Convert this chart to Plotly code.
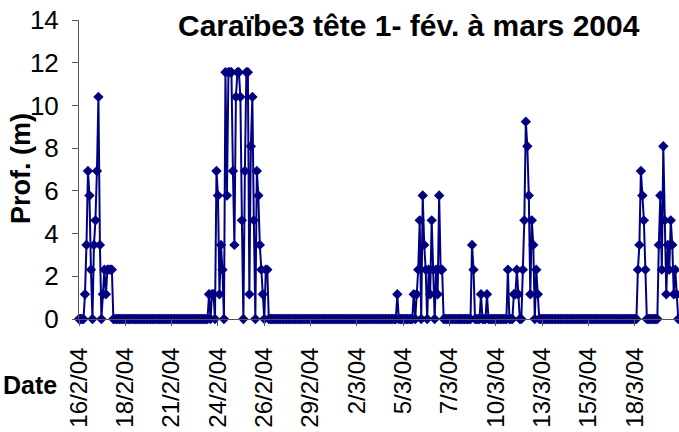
import numpy as np
import pandas as pd
import plotly.graph_objects as go

# ---------------- data ----------------
# logger samples every 2 hours starting 16/2/2004 07:00
sample_start = "2004-02-16 07:00"
n_samples = 403
sample_step_hours = 2

# depth bursts (m): first sample index -> consecutive readings; all other samples read 0
burst_1 = (3, [0, 1.16, 3.47, 6.93, 5.78, 2.31, 0, 3.47, 4.62, 6.93, 10.40, 3.47, 0,
               1.16, 2.31, 1.16, 2.31, 2.31, 2.31, 2.31, 0])
burst_2 = (86, [0, 1.16, 0, 1.16, 1.16, 0, 6.93, 5.78, 1.16, 3.47, 2.31, 0, 11.55, 5.78,
                11.55, 11.55, 11.55, 6.93, 3.47, 10.40, 11.55, 11.55, 10.40, 4.62, 0, 6.93,
                11.55, 11.55, 1.16, 8.09, 10.40, 4.62, 0, 6.93, 5.78, 3.47, 2.31, 1.16, 0,
                2.31, 2.31, 0])
burst_3a = (212, [0, 1.16, 0])
burst_3b = (223, [0, 1.16, 0, 1.16, 2.31, 4.62, 0, 5.78, 3.47, 2.31, 0, 2.31, 1.16, 4.62,
                  2.31, 0, 2.31, 1.16, 5.78, 2.31, 2.31, 0])
burst_4a = (262, [0, 3.47, 2.31, 0])
burst_4b = (268, [0, 1.16, 0, 0, 0, 1.16, 0])
burst_4c = (286, [0, 2.31, 0])
burst_4d = (290, [0, 1.16, 1.16, 2.31, 1.16, 0, 0, 2.31, 4.62, 9.24, 8.09, 5.78, 1.16,
                  4.62, 3.47, 0, 2.31, 1.16, 0])
burst_5a = (373, [0, 2.31, 3.47, 6.93, 5.78, 4.62, 2.31, 0])
burst_5b = (387, [0, 3.47, 5.78, 2.31, 8.09, 4.62, 1.16, 3.47, 2.31, 4.62, 3.47, 1.16,
                  2.31, 1.16, 0, 0])
bursts = [burst_1, burst_2, burst_3a, burst_3b, burst_4a, burst_4b, burst_4c,
          burst_4d, burst_5a, burst_5b]

tick_labels = ["16/2/04", "18/2/04", "21/2/04", "24/2/04", "26/2/04", "29/2/04",
               "2/3/04", "5/3/04", "7/3/04", "10/3/04", "13/3/04", "15/3/04", "18/3/04"]
tick_step_hours = 62

title_text = "Caraïbe3 tête 1- fév. à mars 2004"
y_title = "Prof. (m)"
x_title = "Date"

# ---------------- build ----------------
times = pd.date_range(sample_start, periods=n_samples, freq=f"{sample_step_hours}h")
depth = np.zeros(n_samples)
for first, vals in bursts:
    depth[first:first + len(vals)] = vals

t0 = pd.Timestamp(sample_start)
tickvals = [t0 + pd.Timedelta(hours=tick_step_hours * k) for k in range(len(tick_labels))]
x_end = t0 + pd.Timedelta(hours=sample_step_hours * 401.5)

navy = "#000080"
axis_col = "#555555"
font_fam = "Liberation Sans, Arial, sans-serif"

fig = go.Figure()
fig.add_trace(go.Scatter(
    x=times, y=depth, mode="lines+markers",
    line=dict(color=navy, width=2, simplify=False),
    marker=dict(symbol="diamond", size=8, color=navy),
    cliponaxis=False, showlegend=False,
))

fig.update_layout(
    width=679, height=432,
    margin=dict(l=79, r=0, t=20, b=113, autoexpand=False),
    paper_bgcolor="white", plot_bgcolor="white",
    font=dict(family=font_fam, color="black"),
    xaxis=dict(
        type="date", range=[t0, x_end], automargin=False,
        tickmode="array", tickvals=tickvals, ticktext=tick_labels,
        tickangle=-90, ticks="outside", ticklen=6, tickcolor=axis_col,
        showline=True, linecolor=axis_col, linewidth=1,
        showgrid=False, zeroline=False, ticklabeloverflow="allow",
        tickfont=dict(size=24, family=font_fam, color="black"),
        ticklabelstandoff=12,
    ),
    yaxis=dict(
        range=[0, 14], tickmode="linear", tick0=0, dtick=2, automargin=False,
        ticks="outside", ticklen=6, tickcolor=axis_col,
        showline=True, linecolor=axis_col, linewidth=1,
        showgrid=False, zeroline=False, ticklabeloverflow="allow",
        tickfont=dict(size=26, family=font_fam, color="black"),
        ticklabelstandoff=8,
    ),
    annotations=[
        dict(text=f"<b>{title_text}</b>", xref="paper", yref="paper",
             x=0.55, y=0.98, xanchor="center", yanchor="middle", showarrow=False,
             font=dict(size=30, family=font_fam, color="black")),
        dict(text=f"<b>{y_title}</b>", xref="paper", yref="paper",
             x=-0.0967, y=0.505, xanchor="center", yanchor="middle", textangle=-90,
             showarrow=False, font=dict(size=27, family=font_fam, color="black")),
        dict(text=f"<b>{x_title}</b>", xref="paper", yref="paper",
             x=-0.0817, y=-0.221, xanchor="center", yanchor="middle",
             showarrow=False, font=dict(size=25, family=font_fam, color="black")),
    ],
)

# remove the page's default 8px body margin so the figure sits at the window's corner
fig.write_html("out.html", config={"displayModeBar": False},
               post_script="document.body.style.margin='0px';")
